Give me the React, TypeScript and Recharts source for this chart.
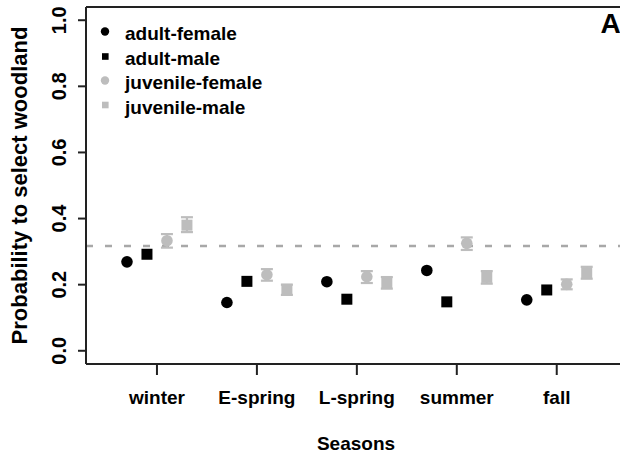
import React from 'react';
import { ComposedChart, Scatter, XAxis, YAxis, ErrorBar, ReferenceLine, Legend } from 'recharts';

const seasons = ['winter', 'E-spring', 'L-spring', 'summer', 'fall'];
const seasonPos = [1, 2, 3, 4, 5];
const yTicks = [0, 0.2, 0.4, 0.6, 0.8, 1.0];

const adultFemale = [0.269, 0.146, 0.209, 0.243, 0.154];
const adultMale = [0.292, 0.210, 0.156, 0.148, 0.184];
const juvFemale = [0.333, 0.230, 0.224, 0.325, 0.201];
const juvFemaleLow = [0.312, 0.212, 0.205, 0.305, 0.186];
const juvFemaleHigh = [0.353, 0.247, 0.241, 0.343, 0.216];
const juvMale = [0.380, 0.186, 0.206, 0.222, 0.236];
const juvMaleLow = [0.359, 0.169, 0.188, 0.203, 0.218];
const juvMaleHigh = [0.404, 0.200, 0.223, 0.241, 0.254];
const overallMean = 0.317;

const legendNames = ['adult-female', 'adult-male', 'juvenile-female', 'juvenile-male'];

const BLACK = '#000000';
const GRAY = '#bdbdbd';
const AXIS = '#222222';
const FONT = '"Liberation Sans", Arial, Helvetica, sans-serif';

type Pt = { x: number; y: number; err?: [number, number] };

function build(vals: number[], offset: number, low?: number[], high?: number[]): Pt[] {
  return vals.map((v, i) => {
    const p: Pt = { x: seasonPos[i] + offset, y: v };
    if (low && high) p.err = [v - low[i], high[i] - v];
    return p;
  });
}

const afData = build(adultFemale, -0.3);
const amData = build(adultMale, -0.1);
const jfData = build(juvFemale, 0.1, juvFemaleLow, juvFemaleHigh);
const jmData = build(juvMale, 0.3, juvMaleLow, juvMaleHigh);

const circleShape = (color: string) => (props: any) => (
  <circle cx={props.cx} cy={props.cy} r={5.8} fill={color} />
);
const squareShape = (color: string) => (props: any) => (
  <rect x={props.cx - 5.5} y={props.cy - 5.5} width={11} height={11} fill={color} />
);

const XTick = (props: any) => {
  const { x, y, payload } = props;
  return (
    <text x={x} y={y} dy={27} textAnchor="middle" fontFamily={FONT} fontWeight="bold" fontSize={19} fill="#000">
      {seasons[Math.round(payload.value) - 1]}
    </text>
  );
};

const YTick = (props: any) => {
  const { x, y, payload } = props;
  const bx = x - 10;
  return (
    <text
      x={bx}
      y={y}
      transform={`rotate(-90 ${bx} ${y})`}
      textAnchor="middle"
      fontFamily={FONT}
      fontWeight="bold"
      fontSize={20}
      fill="#000"
    >
      {Number(payload.value).toFixed(1)}
    </text>
  );
};

const LegendContent = () => {
  const rows = [16.5, 41.5, 65.5, 90];
  const colors = [BLACK, BLACK, GRAY, GRAY];
  return (
    <svg width={220} height={120} style={{ display: 'block', overflow: 'visible' }}>
      {legendNames.map((name, i) => (
        <g key={name}>
          {i % 2 === 0 ? (
            <circle cx={15} cy={rows[i]} r={4.2} fill={colors[i]} />
          ) : (
            <rect x={12} y={rows[i] - 3.3} width={6.6} height={6.6} fill={colors[i]} />
          )}
          <text x={35} y={rows[i] + 8.5} fontFamily={FONT} fontWeight="bold" fontSize={19} fill="#000">
            {name}
          </text>
        </g>
      ))}
    </svg>
  );
};

export default function App() {
  return (
    <div style={{ position: 'absolute', left: 0, top: 0, width: 620, height: 457, background: '#fff' }}>
      <ComposedChart width={620} height={457} margin={{ top: 7, right: 0, bottom: 0, left: 0 }}>
        <XAxis
          type="number"
          dataKey="x"
          domain={[0.29, 5.633]}
          ticks={seasonPos}
          allowDataOverflow
          height={93}
          tickSize={11}
          axisLine={{ stroke: AXIS, strokeWidth: 2 }}
          tickLine={{ stroke: AXIS, strokeWidth: 2 }}
          tick={<XTick />}
          interval={0}
          label={(p: any) => {
            const vb = p.viewBox;
            return (
              <text
                x={vb.x + vb.width / 2 + 3}
                y={vb.y + 86}
                textAnchor="middle"
                fontFamily={FONT}
                fontWeight="bold"
                fontSize={19}
                fill="#000"
              >
                Seasons
              </text>
            );
          }}
        />
        <YAxis
          type="number"
          dataKey="y"
          domain={[-0.04, 1.04]}
          ticks={yTicks}
          allowDataOverflow
          width={86}
          tickSize={8}
          axisLine={{ stroke: AXIS, strokeWidth: 2 }}
          tickLine={{ stroke: AXIS, strokeWidth: 2 }}
          tick={<YTick />}
          interval={0}
          label={(p: any) => {
            const vb = p.viewBox;
            const lx = vb.x + 27;
            const ly = vb.y + vb.height / 2;
            return (
              <text
                x={lx}
                y={ly}
                transform={`rotate(-90 ${lx} ${ly})`}
                textAnchor="middle"
                fontFamily={FONT}
                fontWeight="bold"
                fontSize={22}
                fill="#000"
              >
                Probability to select woodland
              </text>
            );
          }}
        />
        <ReferenceLine y={1.04} stroke={AXIS} strokeWidth={2} ifOverflow="visible" />
        <ReferenceLine y={overallMean} stroke="#a8a8a8" strokeWidth={2.5} strokeDasharray="7 12" />
        <Scatter name="adult-female" data={afData} shape={circleShape(BLACK)} isAnimationActive={false} />
        <Scatter name="adult-male" data={amData} shape={squareShape(BLACK)} isAnimationActive={false} />
        <Scatter name="juvenile-female" data={jfData} shape={circleShape(GRAY)} isAnimationActive={false}>
          <ErrorBar dataKey="err" direction="y" width={6} strokeWidth={2.2} stroke={GRAY} />
        </Scatter>
        <Scatter name="juvenile-male" data={jmData} shape={squareShape(GRAY)} isAnimationActive={false}>
          <ErrorBar dataKey="err" direction="y" width={6} strokeWidth={2.2} stroke={GRAY} />
        </Scatter>
        <Legend
          layout="vertical"
          align="center"
          verticalAlign="middle"
          content={<LegendContent />}
          wrapperStyle={{ left: 90, top: 15, width: 220, height: 120 }}
        />
      </ComposedChart>
      <svg width={620} height={457} style={{ position: 'absolute', left: 0, top: 0, pointerEvents: 'none' }}>
        <text x={600.5} y={33.3} fontFamily={FONT} fontWeight="bold" fontSize={28} fill="#000">
          A
        </text>
      </svg>
    </div>
  );
}
